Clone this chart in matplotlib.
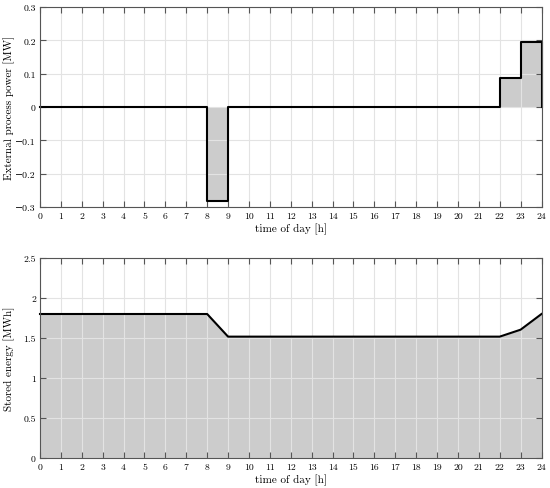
import numpy as np
import matplotlib
matplotlib.use("Agg")
import matplotlib.pyplot as plt

plt.rcParams['font.family'] = ['cmr10', 'DejaVu Serif']
plt.rcParams['mathtext.fontset'] = 'cm'
plt.rcParams['axes.formatter.use_mathtext'] = True
plt.rcParams['axes.unicode_minus'] = True

# hourly external process power [MW] (value held over each hour)
hours = np.arange(0, 25)
power = [0, 0, 0, 0, 0, 0, 0, 0, -0.283, 0, 0, 0, 0, 0, 0, 0, 0, 0, 0, 0, 0, 0, 0.087, 0.195]
# stored energy [MWh] at each hour boundary
energy = [1.8, 1.8, 1.8, 1.8, 1.8, 1.8, 1.8, 1.8, 1.8, 1.517, 1.517, 1.517, 1.517, 1.517,
          1.517, 1.517, 1.517, 1.517, 1.517, 1.517, 1.517, 1.517, 1.517, 1.604, 1.8]

fill_col = '#cccccc'
fig = plt.figure(figsize=(5.5, 4.89), dpi=100)
ax1 = fig.add_axes([40/550, 1-208/489, 501.5/550, 200/489])
ax2 = fig.add_axes([40/550, 1-459/489, 501.5/550, 200/489])

# top: step plot
p_step = power + [power[-1]]
ax1.fill_between(hours, p_step, 0, step='post', color=fill_col, linewidth=0)
xs = np.repeat(hours, 2)[1:-1]
ys = np.repeat(power, 2)
xs = np.concatenate([xs, [24, 24]])
ys = np.concatenate([ys, [power[-1], 0]])
ax1.plot(xs, ys, color='black', linewidth=1.5, zorder=3, clip_on=False)
ax1.set_ylim(-0.3, 0.3)
ax1.set_yticks(np.arange(-0.3, 0.31, 0.1))
ax1.set_yticklabels(['\u22120.3', '\u22120.2', '\u22120.1', '0', '0.1', '0.2', '0.3'])
ax1.set_ylabel('External process power [MW]', fontsize=8)

# bottom: stored energy
ax2.fill_between(hours, energy, 0, color=fill_col, linewidth=0)
ax2.plot(hours, energy, color='black', linewidth=1.5, zorder=3, clip_on=False)
ax2.set_ylim(0, 2.5)
ax2.set_yticks([0, 0.5, 1, 1.5, 2, 2.5])
ax2.set_yticklabels(['0', '0.5', '1', '1.5', '2', '2.5'])
ax2.set_ylabel('Stored energy [MWh]', fontsize=8)

for ax in (ax1, ax2):
    ax.set_xlim(0, 24)
    ax.set_xticks(hours)
    ax.set_xticklabels([str(h) for h in hours])
    ax.set_xlabel('time of day [h]', fontsize=8, labelpad=2)
    ax.yaxis.set_label_coords(-0.05, 0.5)
    ax.grid(True, color='#e3e3e3', linewidth=0.8)
    ax.set_axisbelow(False)
    ax.tick_params(direction='in', top=True, right=True, labelsize=7, length=4,
                   color='#555555', width=0.8, pad=3)
    for s in ax.spines.values():
        s.set_color('#555555')
        s.set_linewidth(0.8)
        s.set_zorder(4)

plt.savefig('out.png', dpi=100)
